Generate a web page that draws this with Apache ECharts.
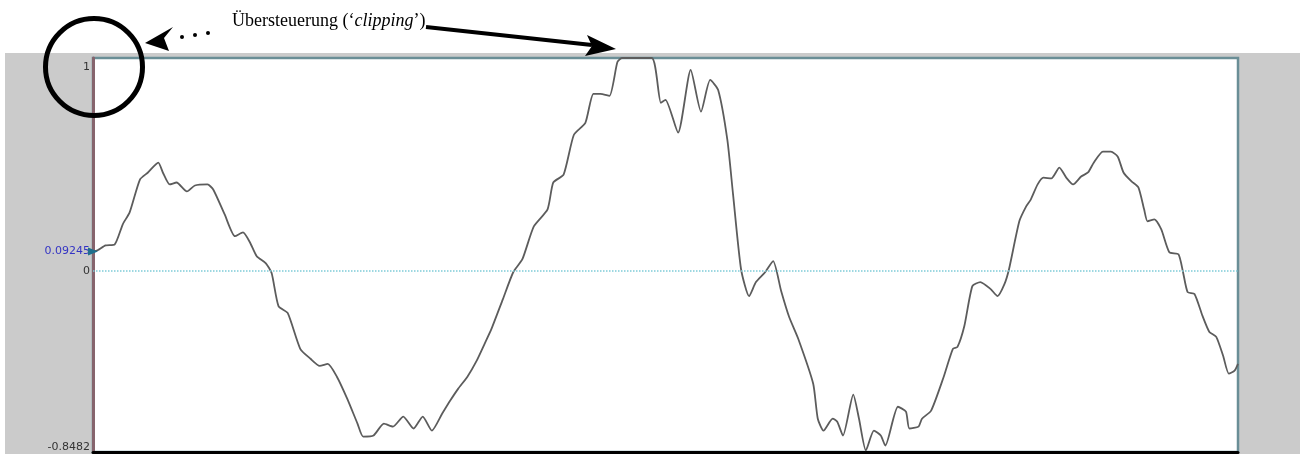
<!DOCTYPE html>
<html>
<head>
<meta charset="utf-8">
<script src="https://cdn.jsdelivr.net/npm/echarts@6/dist/echarts.min.js"></script>
<style>
html,body{margin:0;padding:0;background:#fff;}
#c{width:1300px;height:454px;}
</style>
</head>
<body>
<div id="c"></div>
<script>
// sample position (0..1000) along the recording
const samples = [0,4,11,19,26,32,41,48,57,61,67,73,82,89,100,105,115,124,131,137,143,151,156,162,170,181,190,198,205,213,222,231,236,245,254,262,271,280,288,296,305,312,319,327,335,342,348,358,367,375,385,397,402,411,420,430,437,443,451,458,462,488,496,500,511,522,531,539,546,554,559,566,573,579,587,594,601,608,616,629,633,638,646,650,655,664,669,675,682,688,692,703,710,713,721,724,732,743,751,755,761,768,775,784,790,796,800,809,815,819,825,830,837,844,850,856,863,869,874,882,889,895,900,907,913,918,921,927,933,940,948,952,956,962,969,975,981,987,992,997,1000];
// amplitude
const amplitude = [0.092,0.098,0.121,0.126,0.220,0.276,0.430,0.463,0.509,0.463,0.407,0.416,0.374,0.402,0.407,0.383,0.266,0.164,0.182,0.136,0.070,0.037,-0.009,-0.164,-0.196,-0.364,-0.411,-0.444,-0.435,-0.495,-0.598,-0.715,-0.776,-0.771,-0.715,-0.729,-0.682,-0.738,-0.682,-0.748,-0.668,-0.607,-0.551,-0.495,-0.421,-0.341,-0.271,-0.131,-0.005,0.056,0.210,0.290,0.416,0.453,0.640,0.696,0.832,0.832,0.822,0.981,1.0,1.0,0.790,0.804,0.650,0.944,0.748,0.897,0.850,0.617,0.360,0.009,-0.117,-0.051,-0.005,0.047,-0.093,-0.215,-0.318,-0.528,-0.692,-0.748,-0.692,-0.706,-0.771,-0.579,-0.692,-0.841,-0.748,-0.771,-0.818,-0.636,-0.659,-0.738,-0.729,-0.692,-0.654,-0.495,-0.364,-0.355,-0.257,-0.070,-0.051,-0.084,-0.117,-0.061,0.009,0.234,0.304,0.336,0.407,0.439,0.435,0.486,0.439,0.407,0.444,0.463,0.509,0.561,0.561,0.537,0.463,0.421,0.393,0.290,0.234,0.243,0.196,0.089,0.079,-0.005,-0.098,-0.107,-0.210,-0.285,-0.308,-0.397,-0.481,-0.467,-0.435];
// y-axis tick labels
const yTicks = [-0.8482, 0, 0.09245, 1];
const yMin = -0.8482, yMax = 1;
const startValue = 0.09245;
const annotationText = ['Übersteuerung (‘', 'clipping', '’)'];

const chart = echarts.init(document.getElementById('c'), null, {renderer: 'canvas'});
const data = samples.map((s, i) => [s, amplitude[i]]);
const lblFont = {fontFamily: 'DejaVu Sans', fontSize: 11};

chart.setOption({
  animation: false,
  backgroundColor: '#ffffff',
  grid: {
    left: 93, right: 62, top: 58, bottom: 2,
    show: true, backgroundColor: '#ffffff',
    borderColor: '#6a8e96', borderWidth: 2.5
  },
  xAxis: {
    type: 'value', min: 0, max: 1000,
    axisLine: {show: true, onZero: false, lineStyle: {color: '#000', width: 3}},
    axisTick: {show: false}, axisLabel: {show: false}, splitLine: {show: false}
  },
  yAxis: {
    type: 'value', min: yMin, max: yMax,
    axisLine: {show: true, lineStyle: {color: '#86646d', width: 3}},
    axisTick: {show: false}, splitLine: {show: false},
    axisLabel: {
      customValues: yTicks,
      margin: 3,
      fontFamily: lblFont.fontFamily, fontSize: lblFont.fontSize, color: '#333333',
      formatter: function (v) {
        if (Math.abs(v - startValue) < 1e-6) return '{b|0.09245}';
        if (v === yMax) return '{t|1}';
        if (v === yMin) return '{m|-0.8482}';
        return String(v);
      },
      rich: {
        b: Object.assign({color: '#3434c4'}, lblFont),
        t: Object.assign({color: '#333333', padding: [18, 0, 0, 0]}, lblFont),
        m: Object.assign({color: '#333333', padding: [0, 0, 9, 0]}, lblFont)
      }
    }
  },
  series: [{
    type: 'line',
    data: data,
    showSymbol: false,
    smooth: 0.2,
    clip: true,
    lineStyle: {color: '#5c5c5c', width: 1.8},
    markLine: {
      silent: true, symbol: 'none', label: {show: false},
      lineStyle: {color: '#7ecbd8', type: 'dotted', width: 1.5},
      data: [{yAxis: 0}]
    },
    markPoint: {
      silent: true,
      symbol: 'triangle', symbolSize: [8, 10], symbolRotate: -90,
      itemStyle: {color: '#1f6f8c'},
      label: {show: false},
      data: [{coord: [samples[0], startValue]}]
    }
  }],
  graphic: [
    {type: 'rect', z: -10, silent: true, shape: {x: 5, y: 53, width: 1295, height: 401}, style: {fill: '#cbcbcb'}},
    {type: 'circle', z: 100, shape: {cx: 94, cy: 67, r: 48.5}, style: {fill: 'none', stroke: '#000', lineWidth: 5}},
    {type: 'polygon', z: 100, shape: {points: [[145, 43], [173, 27], [164, 38], [169, 51]]}, style: {fill: '#000'}},
    {type: 'circle', z: 100, shape: {cx: 182, cy: 37, r: 2}, style: {fill: '#000'}},
    {type: 'circle', z: 100, shape: {cx: 195, cy: 35, r: 2}, style: {fill: '#000'}},
    {type: 'circle', z: 100, shape: {cx: 208, cy: 33, r: 2}, style: {fill: '#000'}},
    {type: 'text', z: 100, left: 232, top: 12, style: {
      text: '{n|' + annotationText[0] + '}{i|' + annotationText[1] + '}{n|' + annotationText[2] + '}',
      rich: {
        n: {fontFamily: 'Liberation Serif', fontSize: 18, fill: '#000'},
        i: {fontFamily: 'Liberation Serif', fontSize: 18, fontStyle: 'italic', fill: '#000'}
      }
    }},
    {type: 'line', z: 100, shape: {x1: 426, y1: 27, x2: 592, y2: 45}, style: {stroke: '#000', lineWidth: 4}},
    {type: 'polygon', z: 100, shape: {points: [[616, 49], [587, 35], [592, 46], [585, 56]]}, style: {fill: '#000'}}
  ]
});
</script>
</body>
</html>
